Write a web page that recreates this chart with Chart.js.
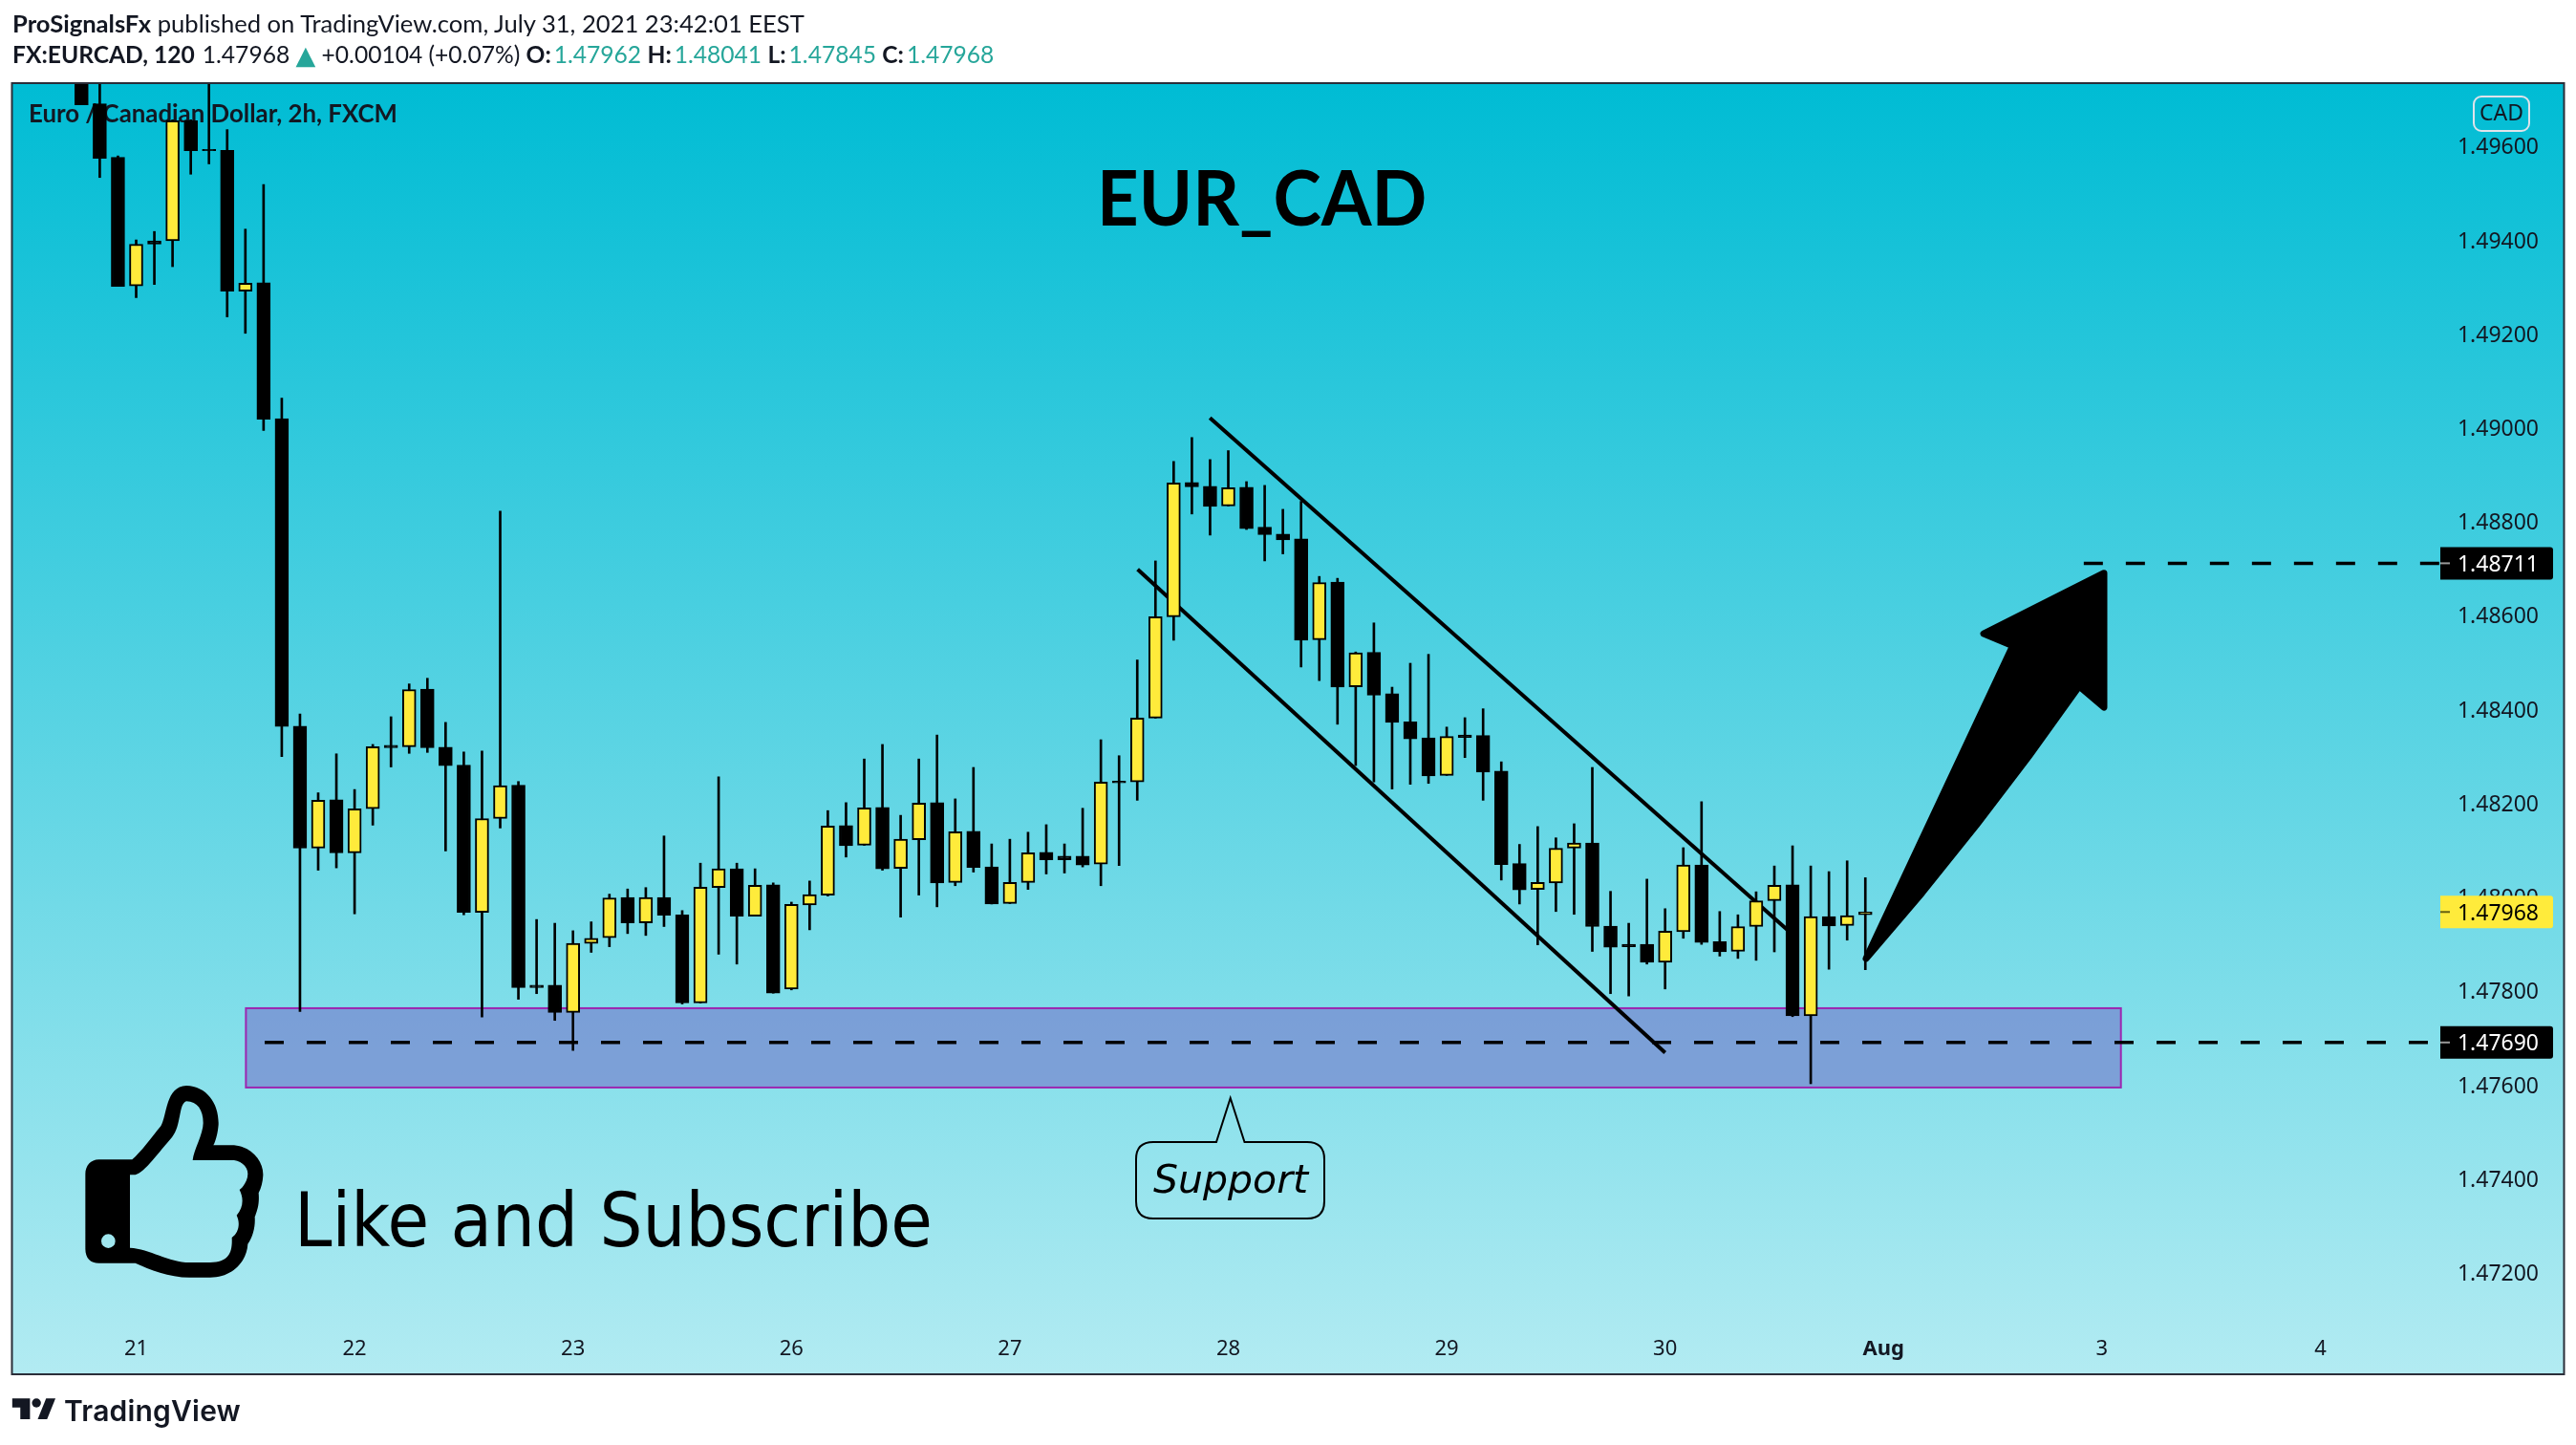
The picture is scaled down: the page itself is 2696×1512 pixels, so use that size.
<!DOCTYPE html>
<html><head><meta charset="utf-8">
<style>
html,body{margin:0;padding:0;background:#fff;width:2696px;height:1512px;overflow:hidden}
canvas{position:absolute;left:0;top:0}
.t{position:absolute;white-space:nowrap;color:#131722}
#h1,#h2{font-family:Lato,sans-serif;left:13px}
#h1{top:9px;font-size:25.6px}#h2{top:42px;font-size:24.6px}
#h1 b,#h2 b{font-weight:700}
.g{color:#26a69a;margin-left:3px}
.tri{color:#26a69a;font-size:27px;line-height:20px;font-family:"DejaVu Sans",sans-serif;vertical-align:-1px}
#title{font-family:Lato,sans-serif;font-weight:700;font-size:80px;color:#000;left:1148px;top:155px;line-height:100px;transform:scaleX(0.95);transform-origin:left center}
#like{font-family:"DejaVu Sans",sans-serif;font-stretch:condensed;font-size:78.8px;color:#000;left:308px;top:1232px;line-height:90px}
#sup{font-family:"DejaVu Sans",sans-serif;font-style:italic;font-size:41px;color:#000;left:1207px;top:1209px;line-height:50px}
</style></head><body>
<canvas id="c" width="2696" height="1512"></canvas>
<div class="t" id="h1"><b>ProSignalsFx</b> published on TradingView.com, July 31, 2021 23:42:01 EEST</div>
<div class="t" id="h2"><b>FX:EURCAD, 120</b><span style="margin-left:8px">1.47968</span> <span class="tri">▲</span> +0.00104 (+0.07%) <b>O:</b><span class="g">1.47962</span> <b>H:</b><span class="g">1.48041</span> <b>L:</b><span class="g">1.47845</span> <b>C:</b><span class="g">1.47968</span></div>
<div class="t" id="title">EUR_CAD</div>
<div class="t" id="like">Like and Subscribe</div>
<div class="t" id="sup">Support</div>
<svg style="position:absolute;left:0;top:0" width="2696" height="1512">
  <g transform="translate(70 1120) scale(0.33333)">
    <path fill="#000" fill-rule="evenodd" d="M100 280 L205 280 C230 260 270 205 295 175 C315 140 310 50 375 48 C440 50 478 105 476 170 C474 195 468 220 460 235 L525 235 C580 240 618 285 616 330 C615 350 610 370 602 385 C605 420 598 440 590 460 C592 490 585 520 568 545 C565 600 520 650 450 650 L385 650 C320 650 260 625 215 605 L100 605 C75 605 58 590 58 560 L58 325 C58 300 75 280 100 280 Z M198 328 L215 328 C245 320 290 255 330 210 C360 175 350 105 375 97 C410 97 428 125 428 165 C428 200 398 250 395 282 L525 282 C550 285 568 305 568 325 C568 345 555 365 542 375 C555 400 555 430 533 455 C545 480 540 510 518 525 C520 570 510 603 450 603 L385 603 C320 603 260 560 198 557 Z M152 536 A22 22 0 1 0 108 536 A22 22 0 1 0 152 536 Z"/>
  </g>
  <path d="M1207 1195 H1273 L1287.7 1149 L1302.5 1195 H1368 Q1386 1195 1386 1213 V1257 Q1386 1275 1368 1275 H1207 Q1189 1275 1189 1257 V1213 Q1189 1195 1207 1195 Z" fill="none" stroke="#000" stroke-width="2"/>
  <g fill="#131722" transform="translate(0 1440) scale(0.3375 0.3333)">
    <path d="M38 70 H93 V135 H63 V98 H38 Z"/><circle cx="113" cy="84" r="14"/><path d="M143 70 H172 L146 135 H117 Z"/>
  </g>
</svg>
<div class="t" style="font-family:Inter,sans-serif;font-weight:600;font-size:30px;left:67px;top:1459px;line-height:34px;letter-spacing:0.2px;color:#131722" id="logo">TradingView</div>

<script src="https://cdn.jsdelivr.net/npm/chart.js@4"></script>
<script>
const firstIndex = -3;
const opens = [
1.49790,1.49690,1.49576,1.49302,1.49398,1.49398,1.49654,1.49593,1.49591,1.49291,
1.49309,1.49019,1.48364,1.48104,1.48207,1.48094,1.48188,1.48323,1.48320,1.48443,
1.48319,1.48281,1.47967,1.48167,1.48238,1.47812,1.47812,1.47754,1.47901,1.47913,
1.47999,1.47945,1.47999,1.47962,1.47774,1.48020,1.48060,1.47959,1.48026,1.47804,
1.47983,1.48004,1.48152,1.48110,1.48191,1.48061,1.48122,1.48201,1.48031,1.48140,
1.48064,1.47986,1.48031,1.48095,1.48087,1.48087,1.48070,1.48247,1.48245,1.48381,
1.48597,1.48883,1.48875,1.48833,1.48873,1.48788,1.48773,1.48763,1.48548,1.48671,
1.48448,1.48521,1.48433,1.48373,1.48339,1.48259,1.48345,1.48344,1.48268,1.48071,
1.48016,1.48030,1.48104,1.48115,1.47938,1.47899,1.47899,1.47861,1.47926,1.48068,
1.47905,1.47884,1.47937,1.47992,1.48026,1.47747,1.47958,1.47939,1.47962];
const highs = [
1.49790,1.49790,1.49579,1.49400,1.49418,1.49656,1.49656,1.49790,1.49635,1.49423,
1.49518,1.49063,1.48390,1.48222,1.48305,1.48229,1.48325,1.48384,1.48454,1.48466,
1.48372,1.48309,1.48311,1.48822,1.48246,1.47952,1.47944,1.47928,1.47947,1.48006,
1.48017,1.48020,1.48130,1.47971,1.48072,1.48256,1.48072,1.48060,1.48030,1.47989,
1.48034,1.48184,1.48201,1.48294,1.48325,1.48174,1.48294,1.48345,1.48209,1.48276,
1.48113,1.48123,1.48138,1.48154,1.48113,1.48189,1.48335,1.48301,1.48505,1.48716,
1.48928,1.48979,1.48932,1.48951,1.48885,1.48877,1.48826,1.48843,1.48683,1.48679,
1.48522,1.48584,1.48447,1.48498,1.48517,1.48362,1.48382,1.48401,1.48288,1.48112,
1.48150,1.48126,1.48156,1.48276,1.48012,1.47944,1.48038,1.47975,1.48105,1.48203,
1.47969,1.47962,1.48011,1.48066,1.48109,1.48066,1.48054,1.48077,1.48041];
const lows = [
1.49688,1.49533,1.49301,1.49277,1.49305,1.49343,1.49540,1.49562,1.49236,1.49201,
1.48994,1.48299,1.47756,1.48057,1.48062,1.47964,1.48153,1.48277,1.48306,1.48308,
1.48098,1.47962,1.47744,1.48147,1.47782,1.47794,1.47737,1.47673,1.47882,1.47894,
1.47922,1.47918,1.47937,1.47772,1.47774,1.47878,1.47857,1.47959,1.47795,1.47802,
1.47930,1.48002,1.48085,1.48110,1.48057,1.47957,1.48004,1.47979,1.48024,1.48053,
1.47985,1.47986,1.48016,1.48049,1.48051,1.48064,1.48024,1.48067,1.48206,1.48381,
1.48547,1.48816,1.48771,1.48833,1.48783,1.48716,1.48731,1.48490,1.48461,1.48368,
1.48280,1.48245,1.48230,1.48240,1.48242,1.48259,1.48297,1.48206,1.48036,1.47985,
1.47898,1.47969,1.47963,1.47884,1.47794,1.47789,1.47857,1.47804,1.47912,1.47899,
1.47874,1.47869,1.47865,1.47883,1.47745,1.47602,1.47846,1.47908,1.47845];
const closes = [
1.49688,1.49574,1.49301,1.49391,1.49391,1.49654,1.49590,1.49590,1.49291,1.49308,
1.49018,1.48363,1.48104,1.48206,1.48094,1.48188,1.48320,1.48318,1.48442,1.48318,
1.48280,1.47967,1.48167,1.48237,1.47807,1.47807,1.47754,1.47901,1.47912,1.47998,
1.47945,1.47999,1.47961,1.47774,1.48021,1.48060,1.47959,1.48025,1.47795,1.47984,
1.48005,1.48151,1.48109,1.48190,1.48060,1.48123,1.48200,1.48030,1.48139,1.48063,
1.47985,1.48031,1.48094,1.48079,1.48079,1.48068,1.48245,1.48243,1.48381,1.48597,
1.48882,1.48874,1.48832,1.48872,1.48785,1.48772,1.48761,1.48547,1.48670,1.48447,
1.48520,1.48430,1.48372,1.48337,1.48258,1.48342,1.48340,1.48266,1.48069,1.48015,
1.48031,1.48104,1.48115,1.47937,1.47893,1.47894,1.47861,1.47927,1.48068,1.47903,
1.47883,1.47937,1.47992,1.48025,1.47747,1.47958,1.47938,1.47960,1.47968];
const dayTicks = [0,12,24,36,48,60,72,84,96,108,120];
const dayLabels = ["21","22","23","26","27","28","29","30","Aug","3","4"];
const priceTicks = [1.472,1.474,1.476,1.478,1.480,1.482,1.484,1.486,1.488,1.490,1.492,1.494,1.496];
const channelUpper = [{x:58.99,y:1.49021},{x:91,y:1.47920}];
const channelLower = [{x:55.02,y:1.48698},{x:84,y:1.47668}];
const supportLine = [{x:7.06,y:1.47690},{x:126.6,y:1.47690}];
const targetLine = [{x:107,y:1.48711},{x:126.6,y:1.48711}];
const supportZone = {x0:6.03,x1:109.04,top:1.47763,bottom:1.47594};
const arrowPath = [[108.11,1.48690],[101.5,1.48561],[103.1,1.48535],[95.04,1.47869],[98.12,1.48009],[101.1,1.48153],[103.97,1.48299],[106.75,1.48449],[108.11,1.48404]];
const priceTags = [{v:1.48711,bg:"#000",fg:"#fff",tick:"#999"},{v:1.47968,bg:"#FFEB3B",fg:"#000",tick:"#665f10"},{v:1.47690,bg:"#000",fg:"#fff",tick:"#999"}];

const xs = opens.map((_,i)=>i+firstIndex);
const up = opens.map((o,i)=>closes[i]>=o);
const rr=(ctx,x,y,w,h,r)=>{ctx.beginPath();ctx.roundRect(x,y,w,h,r);};
const tickFont='23px "Noto Sans", sans-serif';

const decor = {
 id:'decor',
 beforeDraw(ch){
  const {ctx,chartArea:a}=ch;
  const g=ctx.createLinearGradient(0,a.top,0,a.bottom);
  g.addColorStop(0,'#00BCD4');g.addColorStop(1,'#B2EBF2');
  ctx.fillStyle=g;ctx.fillRect(a.left,a.top,a.right-a.left,a.bottom-a.top);
 },
 beforeDatasetsDraw(ch){
  const {ctx,scales:{x,y}}=ch;
  ctx.save();
  const zx0=x.getPixelForValue(supportZone.x0),zx1=x.getPixelForValue(supportZone.x1);
  const zy0=y.getPixelForValue(supportZone.top),zy1=y.getPixelForValue(supportZone.bottom);
  ctx.fillStyle='rgba(120,132,206,0.7)';ctx.fillRect(zx0,zy0,zx1-zx0,zy1-zy0);
  ctx.strokeStyle='#9C27B0';ctx.lineWidth=2;ctx.strokeRect(zx0,zy0,zx1-zx0,zy1-zy0);
  ctx.fillStyle='#131722';ctx.font='700 25.8px Lato, sans-serif';ctx.textBaseline='middle';ctx.textAlign='left';
  ctx.fillText('Euro / Canadian Dollar, 2h, FXCM',30,120);
  ctx.restore();
 },
 afterDatasetsDraw(ch){
  const {ctx,scales:{x,y}}=ch;
  ctx.save();
  ctx.beginPath();
  arrowPath.forEach(([i,p],k)=>{const px=x.getPixelForValue(i),py=y.getPixelForValue(p);k?ctx.lineTo(px,py):ctx.moveTo(px,py);});
  ctx.closePath();ctx.fillStyle='#000';ctx.strokeStyle='#000';ctx.lineWidth=7;ctx.lineJoin='round';ctx.fill();ctx.stroke();
  ctx.restore();
 },
 afterDraw(ch){
  const {ctx,chartArea:a,scales:{y}}=ch;
  ctx.save();
  priceTags.forEach(t=>{
   const py=y.getPixelForValue(t.v);
   ctx.fillStyle=t.bg;rr(ctx,2554,py-17,118,34,[0,3,3,0]);ctx.fill();
   ctx.strokeStyle=t.tick;ctx.lineWidth=2;ctx.beginPath();ctx.moveTo(2554,py);ctx.lineTo(2564,py);ctx.stroke();
   ctx.fillStyle=t.fg;ctx.font=tickFont;ctx.textAlign='right';ctx.textBaseline='middle';
   ctx.fillText(t.v.toFixed(5),2657,py+2);
  });
  ctx.strokeStyle='#E0E3EB';ctx.lineWidth=2;rr(ctx,2589,101,58,36,8);ctx.stroke();
  ctx.fillStyle='#131722';ctx.font='23px "Noto Sans", sans-serif';ctx.textAlign='center';ctx.textBaseline='middle';
  ctx.fillText('CAD',2618,119);
  ctx.strokeStyle='#2A2E39';ctx.lineWidth=2;ctx.strokeRect(a.left-0.5,a.top-1,a.right-a.left+1,a.bottom-a.top+2);
  ctx.restore();
 }
};

new Chart(document.getElementById('c'),{
 type:'bar',
 data:{datasets:[
  {type:'line',data:channelUpper,borderColor:'#000',borderWidth:4,pointRadius:0,order:5},
  {type:'line',data:channelLower,borderColor:'#000',borderWidth:4,pointRadius:0,order:5},
  {type:'line',data:supportLine,borderColor:'#000',borderWidth:3.5,borderDash:[20,24],pointRadius:0,order:4},
  {type:'line',data:targetLine,borderColor:'#000',borderWidth:3.5,borderDash:[20,24],pointRadius:0,order:4},
  {label:'wick',data:xs.map((x,i)=>({x,y:[lows[i],highs[i]]})),backgroundColor:'#000',borderWidth:0,barThickness:2,grouped:false,order:2},
  {label:'body',data:xs.map((x,i)=>({x,y:[opens[i],closes[i]]})),backgroundColor:up.map(u=>u?'#FFEB3B':'#000'),borderColor:'#000',borderWidth:2,borderSkipped:false,barThickness:14,grouped:false,order:1}
 ]},
 options:{
  responsive:false,animation:false,
  layout:{padding:{left:13,right:13,top:88,bottom:75}},
  plugins:{legend:{display:false},tooltip:{enabled:false},title:{display:false}},
  scales:{
   x:{type:'linear',offset:false,min:-6.798,max:133.36,grid:{display:false,drawTicks:false},border:{display:false},
      afterFit(a){a.height=0;},
      afterBuildTicks(a){a.ticks=dayTicks.map(value=>({value}));},
      ticks:{mirror:true,autoSkip:false,maxRotation:0,padding:12,color:'#131722',
        font:c=>({family:'"Noto Sans", sans-serif',size:22,weight:dayLabels[c.index]==='Aug'?'700':'400'}),
        callback:v=>dayLabels[dayTicks.indexOf(v)]}},
   y:{position:'right',min:1.46985,max:1.49732,grid:{display:false,drawTicks:false},border:{display:false},
      afterFit(a){a.width=0;},
      afterBuildTicks(a){a.ticks=priceTicks.map(value=>({value}));},
      ticks:{mirror:true,padding:-26,labelOffset:2,autoSkip:false,color:'#131722',font:{family:'"Noto Sans", sans-serif',size:23},
        callback:v=>v.toFixed(5)}}
  }
 },
 plugins:[decor]
});
</script>
</body></html>
